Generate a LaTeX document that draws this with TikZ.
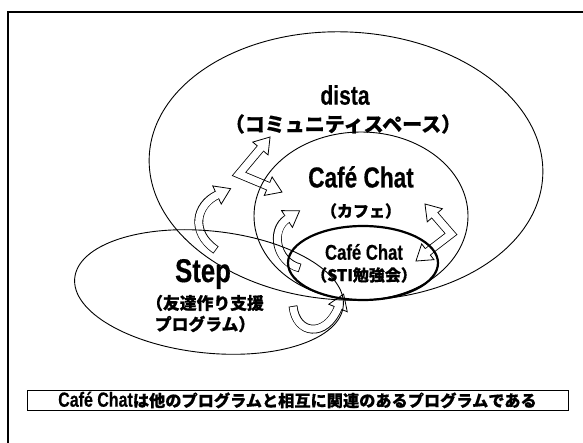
\documentclass[tikz,border=0pt]{standalone}
\usepackage{fontspec}
\usetikzlibrary{shapes.geometric,calc}
\newfontfamily\jp{Noto Sans CJK JP}[BoldFeatures={FakeBold=0.6}]
\newfontfamily\lat{Liberation Sans}[FakeStretch=0.78, BoldFeatures={FakeBold=0.4}]
\newcommand\headat[2]{%
  \filldraw[ahead] ($(#1)+(#2+90:10)$) -- ($(#1)+(#2:15)$) -- ($(#1)+(#2-90:10)$) -- cycle;}
\tikzset{
  shaftb/.style={line width=8.8pt, line cap=butt, line join=miter, black},
  shaftw/.style={line width=7.2pt, line cap=butt, line join=miter, white},
  ahead/.style={fill=white, draw=black, line width=0.8pt, line join=miter},
  ell/.style={draw, ellipse, inner sep=0pt, line width=0.9pt},
  lbl/.style={inner sep=0pt, anchor=center},
  latb/.style={font=\lat\bfseries\fontsize{#1}{#1}\selectfont},
  jpb/.style={font=\jp\bfseries\fontsize{#1}{#1}\selectfont}
}
\begin{document}
\begin{tikzpicture}[x=1pt,y=-1pt]
\useasboundingbox (0,0) rectangle (583,443);
% frame
\coordinate (fbl) at (8,443); \coordinate (ftl) at (8,12); \coordinate (ftr) at (583,12);
\draw[line width=1.2pt] (fbl) -- (ftl) -- (ftr);

% ---- arrows (under the ellipses)
% A: zigzag double arrow
\coordinate (a1) at (260.4,148.5); \coordinate (a2) at (239,174); \coordinate (a3) at (268.2,186.2);
\draw[shaftb] (a1) -- (a2) -- (a3);
\headat{a1}{-50} \headat{a3}{23}
\draw[shaftw, shorten <=-1pt, shorten >=-1pt] (a1) -- (a2) -- (a3);
% B: left curved arrow
\coordinate (b0) at (216,250); \coordinate (b1) at (217,195);
\draw[shaftb] (b0) .. controls (190,232) and (196,205) .. (b1);
\headat{b1}{-25}
\draw[shaftw, shorten <=0.8pt, shorten >=-1pt] (b0) .. controls (190,232) and (196,205) .. (b1);
% C: curved arrow inside Cafe Chat
\coordinate (c0) at (300,268); \coordinate (c1) at (287,219);
\draw[shaftb] (c0) .. controls (276,262) and (270,230) .. (c1);
\headat{c1}{-33}
\draw[shaftw, shorten <=0.8pt, shorten >=-1pt] (c0) .. controls (276,262) and (270,230) .. (c1);
% D: right zigzag double arrow
\coordinate (d1) at (434.8,215.3); \coordinate (d2) at (451,234); \coordinate (d3) at (427.8,251.8);
\draw[shaftb] (d1) -- (d2) -- (d3);
\headat{d1}{-131} \headat{d3}{142}
\draw[shaftw, shorten <=-1pt, shorten >=-1pt] (d1) -- (d2) -- (d3);
% E: bottom curved arrow
\coordinate (e0) at (293,306); \coordinate (e1) at (338,308);
\draw[shaftb] (e0) .. controls (296,335) and (326,338) .. (e1);
\headat{e1}{-68}
\draw[shaftw, shorten <=0.8pt, shorten >=-1pt] (e0) .. controls (296,335) and (326,338) .. (e1);

% ---- ellipses
\node[ell, minimum width=394pt, minimum height=268pt, rotate=-3] (dista) at (346,166) {};
\node[ell, minimum width=214pt, minimum height=168pt] (cafe) at (361,216) {};
\node[ell, minimum width=270pt, minimum height=122pt, rotate=-6] (step) at (209,292) {};
\node[ell, line width=2.2pt, minimum width=150pt, minimum height=74pt] (sti) at (363,263) {};

% ---- labels
\node[lbl, latb=27] (tdista) at (345,95) {dista};
\node[lbl, jpb=20] (tdistaj) at (343,124) {（コミュニティスペース）};
\node[lbl, latb=29] (tcafe) at (361,177) {Café Chat};
\node[lbl, jpb=16] (tcafej) at (361,211) {（カフェ）};
\node[lbl, latb=21.4] (tsti) at (364,252) {Café Chat};
\node[lbl, jpb=16] (tstij) at (364,275) {（STI勉強会）};
\node[lbl, latb=33] (tstep) at (203,274) {Step};
\node[lbl, jpb=16.8] (tstepj1) at (205,303) {（友達作り支援};
\node[lbl, jpb=16.8] (tstepj2) at (205,324) {プログラム）};

% ---- bottom statement box
\node[draw, line width=0.9pt, minimum width=541pt, minimum height=20pt, inner sep=0pt] (box) at (297.5,400)
  {{\lat\bfseries\fontsize{20.5}{17}\selectfont Café Chat}{\jp\bfseries\fontsize{16.2}{17}\selectfont は他のプログラムと相互に関連のあるプログラムである}};
\end{tikzpicture}
\end{document}
